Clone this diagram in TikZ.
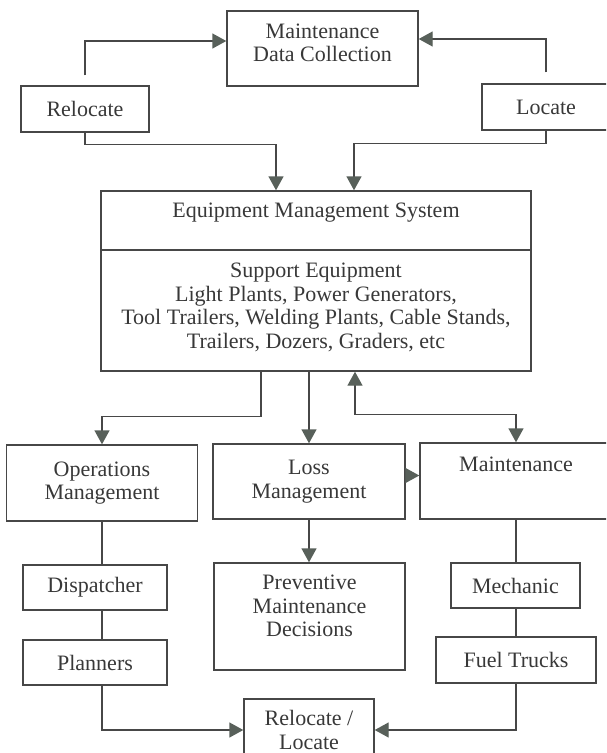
\documentclass[tikz,border=0pt]{standalone}
\usepackage{fontspec}
\setmainfont{Liberation Serif}
\usetikzlibrary{arrows.meta}
\usetikzlibrary{positioning}

\definecolor{linegray}{HTML}{474747}
\definecolor{textgray}{HTML}{383838}
\definecolor{headgray}{HTML}{58605A}

\begin{document}
\begin{tikzpicture}[x=1pt,y=-1pt,color=linegray,line width=1.4pt,
  every node/.style={draw=linegray,line width=1.4pt,text=textgray,align=center,inner sep=0pt,
    font=\fontsize{22}{23.5}\selectfont},
  >={Triangle[length=14pt,width=15pt,color=headgray]}]
  \useasboundingbox (0,0) rectangle (606,753);
  \clip (0,0) rectangle (606,753);

  \node[minimum width=191pt,minimum height=75pt,text depth=12pt] (mdc) at (322.5,48.5) {Maintenance\\Data Collection};
  \node[minimum width=128pt,minimum height=46pt] (reloc) at (85,109) {Relocate};
  \node[minimum width=128pt,minimum height=46pt] (loc) at (546,107) {Locate};

  \node[minimum width=430pt,minimum height=59pt,text depth=20pt] (emstop) at (316,220.5) {Equipment Management System};
  \node[minimum width=430pt,minimum height=121pt,text depth=10pt] (emsbot) at (316,310.5)
    {Support Equipment\\Light Plants, Power Generators,\\Tool Trailers, Welding Plants, Cable Stands,\\Trailers, Dozers, Graders, etc};

  \node[minimum width=191pt,minimum height=76pt] (ops) at (102,483) {Operations\\Management};
  \node[minimum width=192pt,minimum height=75pt] (loss) at (309,481.5) {Loss\\Management};
  \node[minimum width=192pt,minimum height=76pt,text depth=33pt] (maint) at (516,481) {Maintenance};

  \node[minimum width=144pt,minimum height=45pt] (disp) at (95,587.5) {Dispatcher};
  \node[minimum width=144pt,minimum height=45pt] (plan) at (95,662.5) {Planners};
  \node[minimum width=191pt,minimum height=107pt,text depth=21pt] (pmd) at (309.5,616.5) {Preventive\\Maintenance\\Decisions};
  \node[minimum width=129pt,minimum height=45pt] (mech) at (515.5,585.5) {Mechanic};
  \node[minimum width=160pt,minimum height=46pt] (fuel) at (516,660) {Fuel Trucks};
  \node[minimum width=130pt,minimum height=62pt] (rl) at (309,730) {Relocate /\\Locate};

  % top loop
  \draw[->,shorten <=10pt] (reloc.north) |- ([yshift=7.5pt]mdc.west);
  \draw[->,shorten <=11pt] (loc.north) |- ([yshift=9.5pt]mdc.east);
  \draw[->] (reloc.south) -- ++(0,12) -| ([xshift=-40pt]emstop.north);
  \draw[->] (loc.south) -- ++(0,13) -| ([xshift=38pt]emstop.north);

  % system to departments
  \draw[->] ([xshift=-55pt]emsbot.south) -- ++(0,45) -| (ops.north);
  \draw[->] (emsbot.south -| loss.north) -- (loss.north);
  \draw[<->] ([xshift=39pt]emsbot.south) -- ++(0,43) -| (maint.north);
  \draw[->] ([yshift=6pt]loss.east) -- ([yshift=6pt]loss.east -| maint.west);
  \draw[->] (loss.south) -- (loss.south |- pmd.north);

  % left and right columns
  \draw (ops.south) -- (ops.south |- disp.north);
  \draw (ops.south |- disp.south) -- (ops.south |- plan.north);
  \draw[->] (ops.south |- plan.south) |- (rl.west);
  \draw (maint.south) -- (maint.south |- mech.north);
  \draw (maint.south |- mech.south) -- (maint.south |- fuel.north);
  \draw[->] (maint.south |- fuel.south) |- (rl.east);
\end{tikzpicture}
\end{document}
